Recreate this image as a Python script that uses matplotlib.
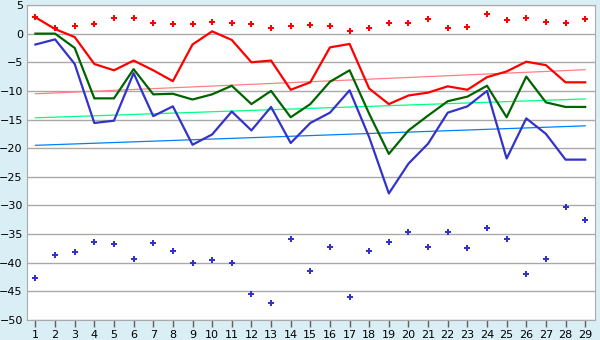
import numpy as np
import matplotlib
matplotlib.use('Agg')
import matplotlib.pyplot as plt

x = np.arange(1, 30)

red_pts = [2.85, 1.0, 1.4, 1.7, 2.7, 2.7, 1.8, 1.7, 1.7, 2.0, 1.9, 1.7, 1.0, 1.4, 1.5,
           1.3, 0.5, 1.0, 1.9, 1.9, 2.6, 1.0, 1.2, 3.4, 2.4, 2.7, 2.0, 1.9, 2.6]
red_line = [2.85, 0.8, -0.6, -5.3, -6.4, -4.7, -6.4, -8.3, -1.9, 0.4, -1.1, -5.0, -4.7, -9.8, -8.5,
            -2.4, -1.8, -9.6, -12.3, -10.8, -10.3, -9.2, -9.8, -7.6, -6.6, -4.9, -5.5, -8.5, -8.5]
green_line = [0, 0, -2.5, -11.3, -11.3, -6.2, -10.6, -10.5, -11.5, -10.6, -9.1, -12.3, -10.0, -14.6, -12.3,
              -8.4, -6.4, -14.0, -21.0, -16.9, -14.3, -11.8, -11.0, -9.1, -14.6, -7.5, -12.0, -12.8, -12.8]
blue_line = [-1.9, -1.0, -5.3, -15.6, -15.2, -6.9, -14.4, -12.7, -19.4, -17.6, -13.6, -16.9, -12.8, -19.1, -15.6,
             -13.8, -9.9, -18.1, -27.9, -22.7, -19.2, -13.8, -12.7, -10.0, -21.8, -14.8, -17.5, -22.0, -22.0]
blue_pts = [-42.6, -38.7, -38.2, -36.3, -36.8, -39.4, -36.5, -37.9, -40.1, -39.6, -40.1, -45.5, -47.1, -35.8, -41.5,
            -37.3, -45.9, -38.0, -36.4, -34.7, -37.3, -34.7, -37.5, -33.9, -35.9, -41.9, -39.4, -30.2, -32.5]

# trend lines (value at x=1 and x=29)
trend_x = [1, 29]
red_trend = [-10.5, -6.3]
green_trend = [-14.7, -11.4]
blue_trend = [-19.5, -16.1]

fig = plt.figure(figsize=(6, 3.4), dpi=100, facecolor='#d9eef5')
ax = fig.add_axes([27/600, 20/340, 568/600, 315/340])
ax.set_facecolor('white')

ax.plot(trend_x, red_trend, color='#ff8080', lw=0.9)
ax.plot(trend_x, green_trend, color='#00ff80', lw=0.9)
ax.plot(trend_x, blue_trend, color='#0080ff', lw=0.9)

ax.plot(x, red_line, color='#ff0000', lw=1.6)
ax.plot(x, green_line, color='#006400', lw=1.6)
ax.plot(x, blue_line, color='#3333cc', lw=1.6)
ax.plot(x, red_pts, 'P', color='#ff0000', ms=4.5, mew=0)
ax.plot(x, blue_pts, 'P', color='#3333cc', ms=4.5, mew=0)

ax.set_xlim(0.57, 29.5)
ax.set_ylim(-50, 5)
ax.set_xticks(x)
ax.set_yticks(np.arange(-50, 6, 5))
ax.grid(axis='y', color='#a9a9a9', lw=1)
ax.set_axisbelow(True)
ax.tick_params(axis='x', length=5, width=1, color='#606060', labelsize=8, pad=2)
ax.tick_params(axis='y', length=0, labelsize=8, pad=3)
for s in ax.spines.values():
    s.set_color('#a9a9a9')

fig.savefig('out.png', dpi=100, facecolor=fig.get_facecolor())
